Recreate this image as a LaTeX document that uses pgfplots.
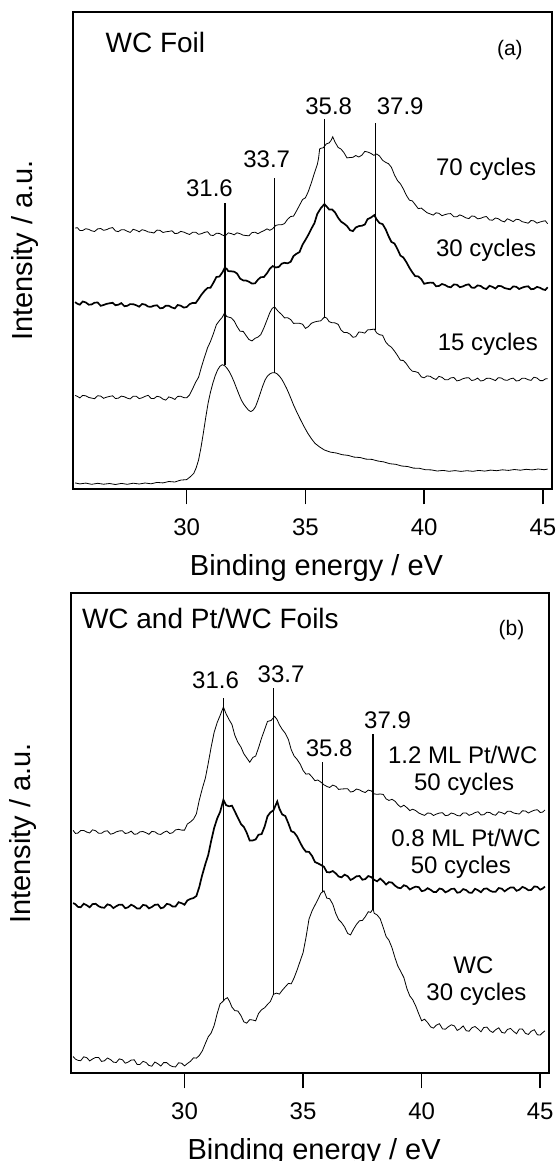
\documentclass[border=0pt]{standalone}
\usepackage{fontspec}
\setmainfont{Liberation Sans}
\usepackage{pgfplots}
\pgfplotsset{compat=1.18}

\tikzset{
  peak/.style={line width=0.8pt, black},
  lab/.style={font=\fontsize{12}{14}\selectfont, anchor=base, inner sep=0pt},
}
\pgfplotsset{
  xps/.style={
    scale only axis,
    xmin=25.2, xmax=45.37, ymin=0,
    xtick={30,35,40,45}, ytick=\empty,
    xtick pos=bottom,
    tick align=outside,
    major tick length=7.5pt,
    every tick/.style={black, line width=0.8pt},
    axis line style={line width=1pt},
    /pgf/number format/assume math mode=true,
    xticklabel style={font=\fontsize{12}{14}\selectfont, anchor=base, yshift=-15.5pt},
    xlabel={Binding energy / eV},
    ylabel={Intensity / a.u.},
    label style={font=\fontsize{14.5}{16}\selectfont},
    xlabel style={at={(axis description cs:0.509,0)}, anchor=base, yshift=-43pt},
    ylabel style={at={(axis description cs:-0.1,0.5)}, anchor=center},
    clip=false,
    cycle list={{black, line width=0.85pt, mark=none, line join=round}},
  },
}

\begin{document}
\begin{tikzpicture}
% ---------------- (a) WC foil ----------------
\begin{axis}[xps, at={(0pt,0pt)}, anchor=north west,
  width=239.5pt, height=238.65pt, ymax=477.3]
% 70 cycles
\addplot coordinates {
(25.3,261.2)(25.4,261.6)(25.5,258.8)(25.62,258.8)(25.75,260.6)(25.88,259.9)(26,258.5)(26.12,257.8)(26.25,260.4)(26.38,260.8)(26.5,259.0)(26.62,259.6)(26.75,261.0)(26.88,261.7)(27,258.4)(27.12,257.7)(27.25,259.6)(27.38,259.5)(27.5,258.0)(27.62,256.9)(27.75,260.0)(27.88,259.0)(28,257.5)(28.12,259.6)(28.25,258.8)(28.38,257.3)(28.5,257.0)(28.62,256.3)(28.75,259.2)(28.88,258.9)(29,256.8)(29.12,257.5)(29.25,257.9)(29.38,258.5)(29.5,255.8)(29.62,256.0)(29.75,257.9)(29.88,257.2)(30,255.9)(30.12,254.8)(30.25,257.0)(30.38,257.1)(30.5,255.0)(30.62,255.6)(30.75,256.9)(30.88,257.6)(31,254.2)(31.12,253.8)(31.25,256.0)(31.38,255.9)(31.5,254.3)(31.62,253.3)(31.75,256.4)(31.88,255.7)(32,254.5)(32.12,256.5)(32.25,255.6)(32.38,254.1)(32.5,253.8)(32.62,253.5)(32.75,256.7)(32.88,257.1)(33,255.6)(33.12,257.2)(33.25,258.6)(33.38,260.4)(33.5,259.0)(33.62,260.6)(33.75,263.9)(33.88,264.6)(34,264.6)(34.12,265.7)(34.25,270.1)(34.38,272.8)(34.5,273.2)(34.62,278.2)(34.75,284.0)(34.88,289.8)(35,291.5)(35.12,297.7)(35.25,306.5)(35.38,316.4)(35.5,324.8)(35.55,330.6)(35.6,340.5)(35.68,341.2)(35.75,341.5)(35.88,345.4)(36,346.4)(36.08,348.9)(36.15,352.5)(36.25,347.0)(36.38,341.8)(36.5,340.2)(36.62,336.7)(36.75,331.4)(36.88,331.8)(37,332.0)(37.12,333.8)(37.25,332.3)(37.38,334.2)(37.5,337.9)(37.62,337.3)(37.75,336.0)(37.88,334.0)(38,335.3)(38.12,333.3)(38.25,329.0)(38.38,326.9)(38.5,325.6)(38.62,322.0)(38.75,314.3)(38.88,308.6)(39,305.5)(39.12,300.5)(39.25,294.0)(39.38,289.1)(39.5,288.4)(39.62,284.8)(39.75,280.7)(39.88,281.2)(40,278.9)(40.12,276.6)(40.25,275.4)(40.38,274.2)(40.5,276.5)(40.62,276.0)(40.75,273.6)(40.88,274.7)(41,275.5)(41.12,275.7)(41.25,272.6)(41.38,272.6)(41.5,274.4)(41.62,273.3)(41.75,271.5)(41.88,270.7)(42,273.3)(42.12,273.0)(42.25,270.5)(42.38,271.0)(42.5,272.2)(42.62,272.8)(42.75,269.4)(42.88,269.1)(43,271.3)(43.12,270.6)(43.25,268.5)(43.38,267.4)(43.5,270.5)(43.62,269.3)(43.75,267.7)(43.88,270.1)(44,269.6)(44.12,267.7)(44.25,266.9)(44.38,266.1)(44.5,268.8)(44.62,268.4)(44.75,266.2)(44.88,267.3)(45,268.1)(45.1,268.5)(45.2,265.6)
};
% 30 cycles
\addplot coordinates {
(25.3,187.2)(25.4,185.5)(25.5,184.6)(25.62,187.8)(25.75,186.9)(25.88,184.6)(26,184.9)(26.12,186.6)(26.25,186.8)(26.38,183.5)(26.5,184.3)(26.62,185.4)(26.75,186.0)(26.88,186.5)(27,184.1)(27.12,184.6)(27.25,186.2)(27.38,183.1)(27.5,183.5)(27.62,185.2)(27.75,185.1)(27.88,184.0)(28,182.6)(28.12,185.3)(28.25,184.7)(28.38,182.7)(28.5,182.5)(28.62,183.6)(28.75,184.0)(28.88,181.0)(29,181.4)(29.12,183.6)(29.25,183.5)(29.38,181.8)(29.5,180.9)(29.62,184.3)(29.75,183.6)(29.88,181.7)(30,182.3)(30.12,185.1)(30.25,186.4)(30.38,186.3)(30.5,190.3)(30.62,194.6)(30.75,198.4)(30.88,201.4)(31,201.5)(31.12,206.3)(31.25,212.3)(31.38,212.8)(31.5,216.8)(31.6,221.3)(31.68,220.7)(31.75,218.2)(31.88,218.0)(32,217.6)(32.12,215.8)(32.25,210.7)(32.38,208.9)(32.5,208.8)(32.62,207.6)(32.75,205.7)(32.88,206.0)(33,209.6)(33.12,212.1)(33.25,212.3)(33.38,216.0)(33.5,220.5)(33.62,223.2)(33.75,221.8)(33.88,222.4)(34,225.6)(34.12,226.5)(34.25,226.0)(34.38,227.6)(34.5,233.3)(34.62,235.5)(34.75,237.2)(34.88,244.7)(35,249.4)(35.12,254.4)(35.25,260.6)(35.38,266.2)(35.5,275.4)(35.65,281.2)(35.8,285.2)(35.9,282.6)(36,279.8)(36.12,279.9)(36.25,276.8)(36.38,271.4)(36.5,267.7)(36.62,265.8)(36.75,263.3)(36.88,259.1)(37,258.2)(37.12,261.8)(37.25,263.2)(37.38,263.6)(37.5,264.8)(37.62,270.2)(37.75,271.6)(37.9,274.2)(38,269.8)(38.12,266.2)(38.25,265.2)(38.38,259.9)(38.5,253.1)(38.62,247.4)(38.75,245.8)(38.88,240.0)(39,233.7)(39.12,231.9)(39.25,227.2)(39.38,221.5)(39.5,217.0)(39.62,213.2)(39.75,212.9)(39.88,210.1)(40,205.5)(40.12,206.2)(40.25,206.7)(40.38,206.5)(40.5,203.1)(40.62,203.3)(40.75,205.3)(40.88,204.3)(41,202.6)(41.12,202.0)(41.25,204.8)(41.38,204.6)(41.5,202.1)(41.62,202.8)(41.75,204.3)(41.88,205.0)(42,201.7)(42.12,201.5)(42.25,203.9)(42.38,203.3)(42.5,201.2)(42.62,200.3)(42.75,203.5)(42.88,202.4)(43,200.8)(43.12,203.4)(43.25,203.1)(43.38,201.3)(43.5,200.6)(43.62,200.0)(43.75,202.9)(43.88,202.5)(44,200.3)(44.12,201.6)(44.25,202.6)(44.38,203.0)(44.5,200.1)(44.62,200.4)(44.75,202.4)(44.88,201.5)(45,199.9)(45.1,199.3)(45.2,202.0)
};
% 15 cycles
\addplot coordinates {
(25.3,93.9)(25.4,92.9)(25.5,91.4)(25.62,93.9)(25.75,93.5)(25.88,91.8)(26,91.2)(26.12,90.6)(26.25,93.6)(26.38,93.2)(26.5,91.0)(26.62,92.1)(26.75,92.9)(26.88,93.5)(27,90.8)(27.12,91.1)(27.25,93.2)(27.38,92.5)(27.5,91.1)(27.62,90.4)(27.75,93.1)(27.88,93.0)(28,90.7)(28.12,91.5)(28.25,93.0)(28.38,94.0)(28.5,90.9)(28.62,90.7)(28.75,93.0)(28.88,92.3)(29,90.2)(29.12,89.2)(29.25,92.4)(29.38,91.4)(29.5,89.9)(29.62,92.9)(29.75,93.0)(29.88,91.7)(30,91.5)(30.12,94.3)(30.25,100.6)(30.38,107.2)(30.5,112.0)(30.62,122.2)(30.75,132.2)(30.88,141.6)(31,147.7)(31.12,155.3)(31.25,164.6)(31.38,168.7)(31.5,172.1)(31.6,176.6)(31.68,172.8)(31.75,172.3)(31.88,171.4)(32,168.3)(32.12,162.8)(32.25,158.0)(32.38,157.9)(32.5,153.8)(32.62,149.8)(32.75,148.4)(32.88,151.0)(33,152.2)(33.12,154.7)(33.25,161.3)(33.38,169.2)(33.5,176.6)(33.6,180.9)(33.7,182.4)(33.85,178.0)(34,174.8)(34.12,171.4)(34.25,171.6)(34.38,169.7)(34.5,165.9)(34.62,166.1)(34.75,166.0)(34.88,165.1)(35,160.9)(35.12,162.6)(35.25,166.0)(35.38,167.3)(35.5,168.0)(35.65,168.5)(35.8,172.3)(35.9,171.1)(36,167.6)(36.12,166.6)(36.25,166.4)(36.38,164.9)(36.5,159.3)(36.62,156.8)(36.75,156.8)(36.88,155.1)(37,152.0)(37.12,152.6)(37.25,157.3)(37.38,157.0)(37.5,156.2)(37.62,159.4)(37.75,159.7)(37.9,160.2)(38,156.4)(38.12,154.6)(38.25,154.0)(38.38,147.3)(38.5,144.1)(38.62,142.1)(38.75,138.2)(38.88,133.7)(39,129.0)(39.12,128.9)(39.25,125.6)(39.38,121.0)(39.5,118.1)(39.62,117.7)(39.75,116.7)(39.88,112.4)(40,111.5)(40.12,113.4)(40.25,113.0)(40.38,111.0)(40.5,109.8)(40.62,112.9)(40.75,112.0)(40.88,109.5)(41,109.5)(41.12,111.4)(41.25,111.8)(41.38,108.4)(41.5,109.1)(41.62,110.5)(41.75,111.4)(41.88,111.5)(42,108.8)(42.12,109.4)(42.25,111.2)(42.38,108.3)(42.5,108.9)(42.62,110.9)(42.75,111.1)(42.88,110.0)(43,108.7)(43.12,111.6)(43.25,111.3)(43.38,109.3)(43.5,109.0)(43.62,110.4)(43.75,111.2)(43.88,108.3)(44,108.8)(44.12,111.0)(44.25,111.0)(44.38,109.6)(44.5,108.9)(44.62,112.1)(44.75,111.3)(44.88,108.7)(45,108.7)(45.1,110.4)(45.2,110.6)
};
% bare WC foil
\addplot coordinates {
(25.3,6.4)(25.5,5.4)(25.75,6.2)(26,5.0)(26.25,6.0)(26.5,5.1)(26.75,5.8)(27,4.8)(27.25,5.9)(27.5,5.0)(27.75,6.1)(28,5.3)(28.25,6.3)(28.5,5.5)(28.75,6.9)(29,6.4)(29.25,7.8)(29.5,7.3)(29.75,9.2)(30,9.7)(30.15,12.5)(30.3,16)(30.4,21.5)(30.5,29.3)(30.6,41.5)(30.7,56)(30.8,71.5)(30.9,86)(31,97)(31.1,106)(31.2,113.5)(31.3,119.3)(31.4,123)(31.5,124.6)(31.6,123.6)(31.7,121)(31.8,117.5)(31.9,112.7)(32,107.2)(32.1,101)(32.2,95)(32.3,89.3)(32.4,85.2)(32.5,82)(32.6,79.2)(32.7,77.7)(32.8,79.2)(32.9,82.7)(33,89)(33.1,96)(33.2,103.2)(33.3,109.3)(33.4,113.2)(33.5,115.3)(33.6,116.5)(33.7,116.7)(33.8,115.6)(33.9,113.3)(34,110.2)(34.1,106)(34.2,101.3)(34.3,96)(34.4,90.2)(34.5,84.3)(34.65,76.5)(34.8,69.3)(34.95,62.4)(35.1,56)(35.25,50.7)(35.4,46)(35.6,42.3)(35.8,39.3)(36.05,37.2)(36.3,36.3)(36.55,34.6)(36.8,33.9)(37.05,32.2)(37.3,31.8)(37.55,30.2)(37.8,29.9)(38.05,28.3)(38.3,27.4)(38.55,25.6)(38.8,25.0)(39.05,23.3)(39.3,22.8)(39.55,21.2)(39.8,21.0)(40.05,19.6)(40.3,19.4)(40.55,18.3)(40.8,18.9)(41.05,18.0)(41.3,18.7)(41.55,17.9)(41.8,18.6)(42.05,18.0)(42.3,18.9)(42.55,18.2)(42.8,19.2)(43.05,18.6)(43.3,19.5)(43.55,18.9)(43.8,19.8)(44.05,19.1)(44.3,20.0)(44.55,19.4)(44.8,20.3)(45.05,19.6)(45.2,20.2)
};
% peak markers
\addplot[peak] coordinates {(31.62,124.3) (31.62,286)};
\addplot[peak] coordinates {(33.69,116.7) (33.69,311.7)};
\addplot[peak] coordinates {(35.80,171) (35.80,370)};
\addplot[peak] coordinates {(37.95,159.3) (37.95,366.7)};
\node[lab] at (axis cs:30.96,292.7) {31.6};
\node[lab] at (axis cs:33.37,321.7) {33.7};
\node[lab] at (axis cs:35.98,375.3) {35.8};
\node[lab] at (axis cs:38.99,374.7) {37.9};
\node[lab] at (axis cs:42.61,313.7) {70 cycles};
\node[lab] at (axis cs:42.61,232.7) {30 cycles};
\node[lab] at (axis cs:42.68,138.7) {15 cycles};
\node[anchor=base west, inner sep=0pt, font=\fontsize{14}{16}\selectfont] at (axis cs:26.57,437) {WC Foil};
\node[anchor=base, inner sep=0pt, font=\fontsize{10.5}{12}\selectfont] at (axis cs:43.61,434.3) {(a)};
\end{axis}

% ---------------- (b) WC and Pt/WC foils ----------------
\begin{axis}[xps, at={(-1pt,-290.65pt)}, anchor=north west,
  width=239.15pt, height=240pt, ymax=480]
% 1.2 ML Pt/WC, 50 cycles
\addplot coordinates {
(25.3,243.0)(25.4,239.9)(25.5,240.2)(25.62,242.7)(25.75,242.9)(25.88,241.2)(26,240.3)(26.12,243.5)(26.25,242.6)(26.38,240.0)(26.5,240.0)(26.62,242.0)(26.75,242.5)(26.88,239.1)(27,239.9)(27.12,241.4)(27.25,242.4)(27.38,242.5)(27.5,239.8)(27.62,240.4)(27.75,242.2)(27.88,239.0)(28,239.4)(28.12,241.5)(28.25,241.8)(28.38,240.5)(28.5,239.0)(28.62,241.9)(28.75,241.5)(28.88,239.3)(29,238.9)(29.12,240.9)(29.25,242.3)(29.38,239.8)(29.5,240.6)(29.62,243.4)(29.75,244.0)(29.88,243.2)(30,243.2)(30.12,249.3)(30.25,251.4)(30.38,254.2)(30.5,259.5)(30.62,272.9)(30.75,284.8)(30.88,295.3)(31,310.0)(31.12,325.8)(31.25,341.1)(31.38,350.9)(31.5,357.8)(31.64,366.3)(31.75,359.6)(31.88,353.6)(32,348.8)(32.12,338.1)(32.25,331.0)(32.38,326.2)(32.5,319.6)(32.62,315.5)(32.75,311.1)(32.88,315.8)(33,317.3)(33.12,325.4)(33.25,335.3)(33.38,343.9)(33.5,351.9)(33.65,352.8)(33.8,357.0)(33.9,353.9)(34,348.6)(34.12,343.9)(34.25,340.0)(34.38,333.8)(34.5,323.6)(34.62,317.4)(34.75,313.8)(34.88,309.1)(35,302.9)(35.12,299.2)(35.25,299.6)(35.38,296.3)(35.5,292.6)(35.62,293.3)(35.75,291.2)(35.88,288.5)(36,286.9)(36.12,285.8)(36.25,288.2)(36.38,287.0)(36.5,283.9)(36.62,284.3)(36.75,284.5)(36.88,284.5)(37,281.3)(37.12,281.9)(37.25,284.3)(37.38,283.4)(37.5,281.8)(37.62,280.8)(37.75,283.2)(37.88,282.4)(38,279.4)(38.12,279.0)(38.25,279.3)(38.38,278.9)(38.5,274.4)(38.62,272.9)(38.75,274.0)(38.88,272.0)(39,268.5)(39.12,266.2)(39.25,268.1)(39.38,265.6)(39.5,262.7)(39.62,264.1)(39.75,262.7)(39.88,260.3)(40,259.0)(40.12,257.9)(40.25,260.3)(40.38,260.0)(40.5,257.8)(40.62,259.2)(40.75,260.3)(40.88,260.6)(41,257.7)(41.12,258.1)(41.25,260.3)(41.38,259.4)(41.5,257.8)(41.62,257.4)(41.75,260.4)(41.88,260.3)(42,258.0)(42.12,259.0)(42.25,260.7)(42.38,261.6)(42.5,258.4)(42.62,258.5)(42.75,261.1)(42.88,260.7)(43,258.8)(43.12,258.1)(43.25,261.5)(43.38,260.6)(43.5,259.2)(43.62,262.0)(43.75,262.0)(43.88,260.3)(44,259.7)(44.12,259.3)(44.25,262.5)(44.38,262.3)(44.5,260.3)(44.62,261.8)(44.75,263.1)(44.88,263.6)(45,260.8)(45.1,261.2)(45.2,263.3)
};
% 0.8 ML Pt/WC, 50 cycles
\addplot coordinates {
(25.3,170.2)(25.4,169.1)(25.5,166.5)(25.62,166.0)(25.75,169.6)(25.88,168.0)(26,166.0)(26.12,169.2)(26.25,169.5)(26.38,167.1)(26.5,165.8)(26.62,165.6)(26.75,169.0)(26.88,168.0)(27,165.2)(27.12,167.1)(27.25,168.7)(27.38,168.5)(27.5,165.1)(27.62,166.0)(27.75,168.6)(27.88,167.0)(28,164.8)(28.12,164.9)(28.25,168.4)(28.38,167.8)(28.5,164.9)(28.62,166.3)(28.75,168.5)(28.88,168.8)(29,165.0)(29.12,165.9)(29.25,169.4)(29.38,168.8)(29.5,166.7)(29.62,166.8)(29.75,171.1)(29.88,170.1)(30,168.6)(30.12,172.9)(30.25,174.4)(30.38,175.3)(30.5,177.3)(30.62,186.2)(30.75,198.6)(30.88,209.4)(31,218.3)(31.12,232.0)(31.25,245.4)(31.38,255.0)(31.5,261.3)(31.64,273.5)(31.75,268.2)(31.88,267.0)(32,267.6)(32.12,261.9)(32.25,255.6)(32.38,249.3)(32.5,246.4)(32.62,240.7)(32.75,232.7)(32.88,232.9)(33,233.9)(33.12,238.6)(33.25,239.2)(33.38,246.9)(33.5,257.1)(33.62,260.8)(33.75,263.0)(33.91,271.8)(34,264.7)(34.12,258.9)(34.25,257.3)(34.38,249.9)(34.5,242.1)(34.62,240.9)(34.75,236.8)(34.88,230.5)(35,225.3)(35.12,221.6)(35.25,221.4)(35.38,217.3)(35.5,211.3)(35.62,210.0)(35.75,208.4)(35.88,206.5)(36,201.3)(36.12,200.9)(36.25,202.3)(36.38,199.9)(36.5,196.8)(36.62,196.0)(36.75,198.6)(36.88,197.1)(37,193.3)(37.12,194.8)(37.25,197.0)(37.38,197.3)(37.5,193.6)(37.62,194.2)(37.75,197.3)(37.88,196.1)(38,193.4)(38.12,192.0)(38.25,194.7)(38.38,192.0)(38.5,188.8)(38.62,191.2)(38.75,190.7)(38.88,187.6)(39,185.6)(39.12,185.1)(39.25,188.1)(39.38,186.9)(39.5,183.8)(39.62,185.4)(39.75,186.7)(39.88,186.1)(40,182.2)(40.12,182.8)(40.25,185.1)(40.38,183.5)(40.5,181.3)(40.62,181.4)(40.75,184.8)(40.88,184.0)(41,181.0)(41.12,182.3)(41.25,184.4)(41.38,184.5)(41.5,180.6)(41.62,181.1)(41.75,184.2)(41.88,183.2)(42,180.7)(42.12,180.5)(42.25,184.5)(42.38,183.0)(42.5,181.1)(42.62,184.4)(42.75,184.9)(42.88,182.6)(43,181.5)(43.12,181.6)(43.25,185.3)(43.38,184.6)(43.5,182.0)(43.62,184.1)(43.75,185.9)(43.88,185.8)(44,182.5)(44.12,183.6)(44.25,186.4)(44.38,185.1)(44.5,183.1)(44.62,183.3)(44.75,186.9)(44.88,186.4)(45,183.6)(45.1,184.8)(45.2,186.7)
};
% WC, 30 cycles
\addplot coordinates {
(25.3,16.8)(25.4,14.2)(25.5,13.0)(25.62,12.6)(25.75,16.5)(25.88,15.6)(26,12.4)(26.12,14.3)(26.25,15.9)(26.38,15.8)(26.5,11.9)(26.62,12.5)(26.75,15.3)(26.88,13.7)(27,11.2)(27.12,10.8)(27.25,14.4)(27.38,13.6)(27.5,10.1)(27.62,11.2)(27.75,13.2)(27.88,13.5)(28,8.9)(28.12,8.9)(28.25,12.0)(28.38,10.8)(28.5,7.9)(28.62,7.1)(28.75,11.3)(28.88,9.5)(29,7.3)(29.12,10.7)(29.25,10.7)(29.38,8.0)(29.5,6.7)(29.62,6.4)(29.75,10.5)(29.88,10.1)(30,7.4)(30.12,9.8)(30.25,12.0)(30.38,15.5)(30.5,15.2)(30.62,17.7)(30.75,22.4)(30.88,29.9)(31,36.5)(31.12,40.2)(31.25,47.9)(31.38,60.0)(31.5,69.4)(31.6,71.5)(31.72,74.5)(31.81,75.6)(31.9,71.9)(32,66.2)(32.12,62.7)(32.25,62.3)(32.38,57.7)(32.5,51.5)(32.62,50.1)(32.75,53.7)(32.88,53.3)(33,52.5)(33.12,59.8)(33.25,63.6)(33.38,65.6)(33.5,68.9)(33.62,71.8)(33.75,79.0)(33.88,80.2)(34,79.2)(34.12,83.0)(34.25,86.5)(34.38,89.9)(34.5,89.5)(34.62,95.4)(34.75,103.5)(34.88,112.5)(35,120.7)(35.12,135.5)(35.25,154.3)(35.38,162.5)(35.5,168.1)(35.62,173.6)(35.75,180.1)(35.88,182.5)(36,175.2)(36.12,174.6)(36.25,169.2)(36.38,159.8)(36.5,153.6)(36.62,150.8)(36.75,146.3)(36.88,139.9)(37,138.4)(37.12,143.9)(37.25,148.9)(37.38,152.6)(37.5,152.8)(37.62,156.5)(37.75,161.6)(37.85,160.9)(37.95,164.5)(38,160.0)(38.12,158.4)(38.25,154.6)(38.38,145.8)(38.5,136.8)(38.62,133.1)(38.75,125.5)(38.88,115.2)(39,107.0)(39.12,101.8)(39.25,95.7)(39.38,84.6)(39.5,77.4)(39.62,73.7)(39.75,67.3)(39.88,59.4)(40,52.5)(40.12,54.1)(40.25,50.8)(40.38,46.4)(40.5,45.2)(40.62,48.2)(40.75,49.6)(40.88,44.4)(41,44.1)(41.12,46.5)(41.25,48.5)(41.38,47.4)(41.5,42.9)(41.62,44.5)(41.75,47.4)(41.88,42.6)(42,42.1)(42.12,45.6)(42.25,46.8)(42.38,44.3)(42.5,41.5)(42.62,45.8)(42.75,46.2)(42.88,42.5)(43,40.9)(43.12,43.6)(43.25,45.5)(43.38,40.9)(43.5,40.2)(43.62,43.9)(43.75,44.9)(43.88,41.8)(44,39.6)(44.12,44.3)(44.25,44.2)(44.38,39.9)(44.5,38.9)(44.62,42.1)(44.75,43.6)(44.88,38.5)(45,38.3)(45.1,40.6)(45.2,42.5)
};
% peak markers
\addplot[peak] coordinates {(31.64,72) (31.64,375)};
\addplot[peak] coordinates {(33.76,78.3) (33.76,385.7)};
\addplot[peak] coordinates {(35.81,181.7) (35.81,311.7)};
\addplot[peak] coordinates {(37.95,163.3) (37.95,339.3)};
\node[lab] at (axis cs:31.31,385) {31.6};
\node[lab] at (axis cs:34.07,391) {33.7};
\node[lab] at (axis cs:36.10,316.7) {35.8};
\node[lab] at (axis cs:38.56,345) {37.9};
\node[lab] at (axis cs:41.73,310) {1.2 ML Pt/WC};
\node[lab] at (axis cs:41.79,283.3) {50 cycles};
\node[lab] at (axis cs:41.87,226.7) {0.8 ML Pt/WC};
\node[lab] at (axis cs:41.65,200) {50 cycles};
\node[lab] at (axis cs:42.18,100) {WC};
\node[lab] at (axis cs:42.31,73.3) {30 cycles};
\node[anchor=base west, inner sep=0pt, font=\fontsize{14}{16}\selectfont] at (axis cs:25.66,445) {WC and Pt/WC Foils};
\node[anchor=base, inner sep=0pt, font=\fontsize{10.5}{12}\selectfont] at (axis cs:43.79,438.3) {(b)};
\end{axis}
\pgfresetboundingbox
\path[use as bounding box] (-36.35pt,6pt) rectangle (242.15pt,-574.5pt);
\end{tikzpicture}
\end{document}
